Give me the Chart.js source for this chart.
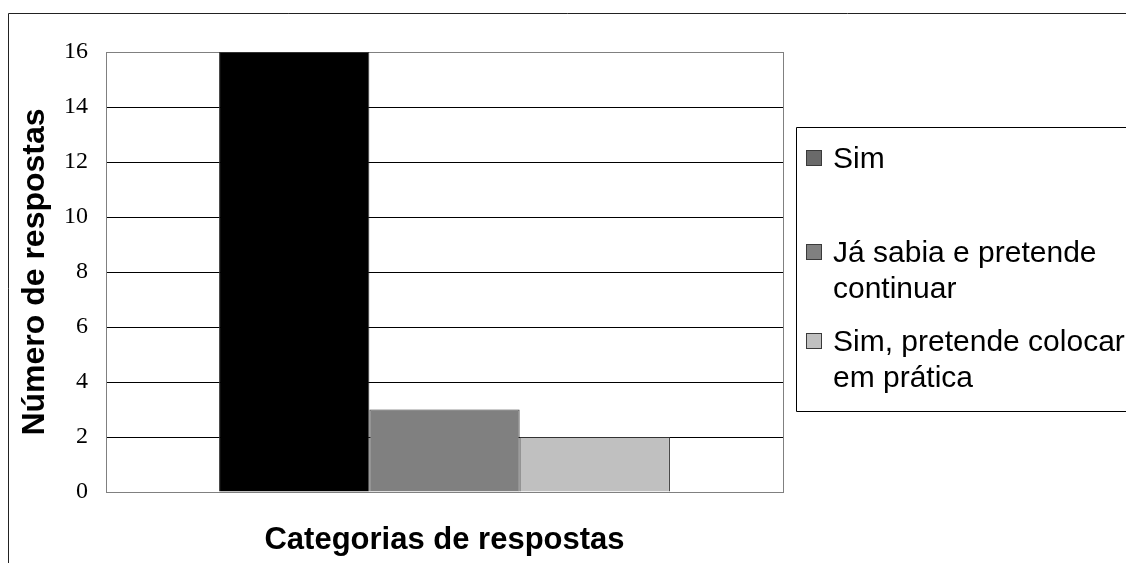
<!DOCTYPE html>
<html>
<head>
<meta charset="utf-8">
<script src="https://cdn.jsdelivr.net/npm/chart.js@4/dist/chart.umd.min.js"></script>
<style>
  html, body { margin: 0; padding: 0; background: #fff; }
  #wrap { width: 1126px; height: 563px; }
</style>
</head>
<body>
<div id="wrap"><canvas id="c" width="1126" height="563"></canvas></div>
<script>
// ---- data ----
const categories = [''];
const seriesNames = [
  ['Sim'],
  ['Já sabia e pretende', 'continuar'],
  ['Sim, pretende colocar', 'em prática']
];
const seriesValues = [
  [16],
  [3],
  [2]
];
const yTicks = [0, 2, 4, 6, 8, 10, 12, 14, 16];
const yTitle = 'Número de respostas';
const xTitle = 'Categorias de respostas';

// ---- styles ----
const barColors = ['#000000', '#808080', '#c0c0c0'];
const swatchColors = ['#6a6a6a', '#808080', '#c0c0c0'];

const datasets = seriesNames.map((n, i) => ({
  label: n.join(' '),
  lines: n,
  data: seriesValues[i],
  backgroundColor: barColors[i],
  borderColor: '#333333',
  borderWidth: 1,
  barPercentage: 1.0,
  categoryPercentage: 0.666
}));

const framePlugin = {
  id: 'frame',
  beforeDraw(chart) {
    const ctx = chart.ctx;
    ctx.save();
    ctx.fillStyle = '#ffffff';
    ctx.fillRect(0, 0, chart.width, chart.height);
    ctx.strokeStyle = '#222222';
    ctx.lineWidth = 1;
    ctx.beginPath();
    ctx.moveTo(8.5, chart.height + 2);
    ctx.lineTo(8.5, 13.5);
    ctx.lineTo(chart.width + 2, 13.5);
    ctx.stroke();
    ctx.restore();
  },
  afterDraw(chart) {
    const ctx = chart.ctx;
    ctx.save();
    // legend box
    const bx = 796.5, by = 127.5, bb = 411.5;
    ctx.strokeStyle = '#000000';
    ctx.lineWidth = 1;
    ctx.beginPath();
    ctx.moveTo(chart.width + 2, by);
    ctx.lineTo(bx, by);
    ctx.lineTo(bx, bb);
    ctx.lineTo(chart.width + 2, bb);
    ctx.stroke();
    // legend items
    const firstBaselines = [168, 262, 351];
    const lineGap = 36;
    ctx.font = '30px "Liberation Sans", Arial, sans-serif';
    ctx.textBaseline = 'alphabetic';
    ctx.textAlign = 'left';
    chart.data.datasets.forEach((ds, i) => {
      const base = firstBaselines[i];
      const sy = base - 18;
      ctx.fillStyle = swatchColors[i];
      ctx.fillRect(806, sy, 16, 16);
      ctx.strokeStyle = '#3a3a3a';
      ctx.strokeRect(806.5, sy + 0.5, 15, 15);
      ctx.fillStyle = '#000000';
      ds.lines.forEach((ln, k) => {
        ctx.fillText(ln, 833, base + k * lineGap);
      });
    });
    ctx.restore();
  }
};

new Chart(document.getElementById('c'), {
  type: 'bar',
  data: { labels: categories, datasets: datasets },
  plugins: [framePlugin],
  options: {
    responsive: false,
    animation: false,
    devicePixelRatio: 1,
    layout: { padding: { left: 8, right: 343, top: 52, bottom: 0 } },
    plugins: {
      legend: { display: false },
      tooltip: { enabled: false }
    },
    scales: {
      x: {
        ticks: { display: false },
        grid: { display: true, color: '#808080', drawTicks: false, offset: true },
        border: { display: true, color: '#808080' },
        title: {
          display: true,
          text: xTitle,
          color: '#000000',
          font: { family: '"Liberation Sans", Arial, sans-serif', size: 31, weight: 'bold' },
          padding: { top: 0, bottom: 4 }
        },
        afterFit(s) { s.height = 71; }
      },
      y: {
        min: 0,
        max: 16,
        afterBuildTicks(s) { s.ticks = yTicks.map(v => ({ value: v })); },
        ticks: {
          color: '#000000',
          padding: 18,
          font: { family: '"Liberation Serif", "Times New Roman", serif', size: 24 }
        },
        grid: {
          drawTicks: false,
          color: (c) => (c.tick && (c.tick.value === 0 || c.tick.value === 16)) ? '#808080' : '#000000'
        },
        border: { display: true, color: '#808080' },
        title: {
          display: true,
          text: yTitle,
          color: '#000000',
          font: { family: '"Liberation Sans", Arial, sans-serif', size: 32, weight: 'bold' },
          padding: { top: 8, bottom: 0 }
        },
        afterFit(s) { s.width = 98; }
      }
    }
  }
});
</script>
</body>
</html>
